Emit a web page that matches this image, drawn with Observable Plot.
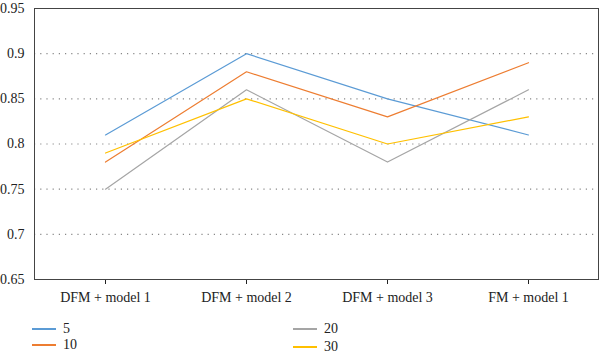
<!DOCTYPE html>
<html><head><meta charset="utf-8">
<script src="https://cdn.jsdelivr.net/npm/d3@7"></script>
<script src="https://cdn.jsdelivr.net/npm/@observablehq/plot@0.6"></script>
<style>
body{margin:0;background:#fff;font-family:"Liberation Serif",serif;}
#wrap{position:relative;width:600px;height:358px;}
#wrap svg, #wrap svg text{font-family:"Liberation Serif",serif !important;font-size:14px !important;}
.leg{position:absolute;display:flex;align-items:center;font-size:14px;color:#222;height:16px;}
.leg span.sw{display:inline-block;width:24px;height:1.5px;margin-right:7px;}
</style></head>
<body><div id="wrap"></div>
<script>
const categories = ["DFM + model 1","DFM + model 2","DFM + model 3","FM + model 1"];
const seriesNames = ["5","10","20","30"];
const s5  = [0.81, 0.90, 0.85, 0.81];
const s10 = [0.78, 0.88, 0.83, 0.89];
const s20 = [0.75, 0.86, 0.78, 0.86];
const s30 = [0.79, 0.85, 0.80, 0.83];
const yTicks = [0.65,0.7,0.75,0.8,0.85,0.9,0.95];
const gridTicks = [0.7,0.75,0.8,0.85,0.9];
const colors = ["#5B9BD5","#ED7D31","#A5A5A5","#FFC000"];

const all = [s5,s10,s20,s30];
const data = [];
all.forEach((arr,si)=>arr.forEach((v,i)=>data.push({cat:categories[i],series:seriesNames[si],v})));

const chart = Plot.plot({
  width:600, height:310,
  marginTop:8, marginBottom:31, marginLeft:34, marginRight:2,
  style:{color:"#222"},
  x:{type:"point", domain:categories, padding:0.5, label:null, tickSize:5, tickPadding:8},
  y:{domain:[0.65,0.95], ticks:yTicks, tickFormat:d=>String(+d.toFixed(2)), label:null, tickSize:0, tickPadding:10},
  color:{domain:seriesNames, range:colors},
  marks:[
    Plot.ruleY(gridTicks,{stroke:"#888",strokeDasharray:"1.2,5",strokeWidth:1.2}),
    Plot.frame({stroke:"#444",strokeWidth:1}),
    Plot.line(data,{x:"cat",y:"v",z:"series",stroke:"series",strokeWidth:1.2})
  ]
});
const wrap = document.getElementById("wrap");
wrap.appendChild(chart);
const legItems = [
  {name:seriesNames[0],c:colors[0],left:32,top:321},
  {name:seriesNames[1],c:colors[1],left:32,top:337},
  {name:seriesNames[2],c:colors[2],left:293,top:321},
  {name:seriesNames[3],c:colors[3],left:293,top:339}
];
legItems.forEach(it=>{
  const d=document.createElement("div");
  d.className="leg";
  d.style.left=it.left+"px"; d.style.top=it.top+"px";
  const sw=document.createElement("span");
  sw.className="sw"; sw.style.background=it.c;
  d.appendChild(sw);
  d.appendChild(document.createTextNode(it.name));
  wrap.appendChild(d);
});
</script></body></html>
